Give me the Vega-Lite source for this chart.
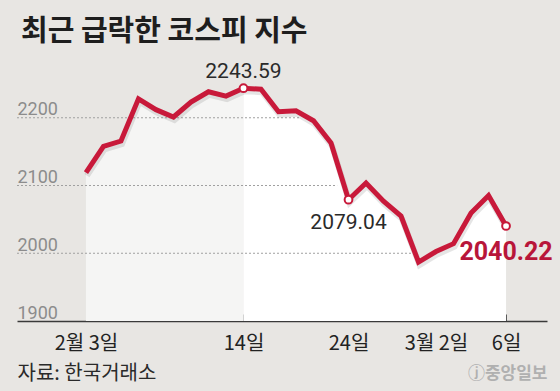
{
  "$schema": "https://vega.github.io/schema/vega-lite/v6.json",
  "width": 530,
  "height": 271,
  "autosize": {"type": "none"},
  "padding": {"left": 17, "top": 50, "right": 13, "bottom": 70},
  "background": "#e8e6e3",
  "config": {"view": {"stroke": null}, "font": "Noto Sans CJK KR"},
  "title": {
    "text": "최근 급락한 코스피 지수",
    "anchor": "start",
    "frame": "group",
    "dx": 4,
    "offset": 3,
    "fontSize": 29,
    "fontWeight": "bold",
    "color": "#1e1e1e",
    "font": "Noto Sans CJK KR"
  },
  "data": {
    "values": [
      {"i": 0, "d": "2/3", "v": 2118.88},
      {"i": 1, "d": "2/4", "v": 2157.90},
      {"i": 2, "d": "2/5", "v": 2165.63},
      {"i": 3, "d": "2/6", "v": 2227.94},
      {"i": 4, "d": "2/7", "v": 2211.95},
      {"i": 5, "d": "2/10", "v": 2201.07},
      {"i": 6, "d": "2/11", "v": 2223.12},
      {"i": 7, "d": "2/12", "v": 2238.38},
      {"i": 8, "d": "2/13", "v": 2232.02},
      {"i": 9, "d": "2/14", "v": 2243.59},
      {"i": 10, "d": "2/17", "v": 2242.17},
      {"i": 11, "d": "2/18", "v": 2208.88},
      {"i": 12, "d": "2/19", "v": 2210.34},
      {"i": 13, "d": "2/20", "v": 2195.50},
      {"i": 14, "d": "2/21", "v": 2162.84},
      {"i": 15, "d": "2/24", "v": 2079.04},
      {"i": 16, "d": "2/25", "v": 2103.61},
      {"i": 17, "d": "2/26", "v": 2076.77},
      {"i": 18, "d": "2/27", "v": 2054.89},
      {"i": 19, "d": "2/28", "v": 1987.01},
      {"i": 20, "d": "3/2", "v": 2002.51},
      {"i": 21, "d": "3/3", "v": 2014.15},
      {"i": 22, "d": "3/4", "v": 2059.33},
      {"i": 23, "d": "3/5", "v": 2085.26},
      {"i": 24, "d": "3/6", "v": 2040.22}
    ]
  },
  "encoding": {
    "x": {
      "field": "i",
      "type": "quantitative",
      "title": "자료: 한국거래소",
      "scale": {"domain": [-3.94, 26.34], "nice": false, "zero": false},
      "axis": {
        "values": [0, 9, 15, 20, 24],
        "labelExpr": "datum.value == 0 ? '2월 3일' : datum.value == 9 ? '14일' : datum.value == 15 ? '24일' : datum.value == 20 ? '3월 2일' : '6일'",
        "grid": false,
        "domainColor": "#3a3a3a",
        "domainWidth": 1.5,
        "tickColor": "#555",
        "tickSize": -7,
        "tickWidth": 1,
        "labelFontSize": 20,
        "labelColor": "#222",
        "labelPadding": 19,
        "labelFont": "Noto Sans CJK KR",
        "titleFont": "Noto Sans CJK KR",
        "titleFontSize": 20,
        "titleFontWeight": "normal",
        "titleColor": "#2a2a2a",
        "titleAnchor": "start",
        "titleAlign": "left",
        "titleBaseline": "middle",
        "titleX": 0,
        "titleY": 52
      }
    },
    "y": {
      "field": "v",
      "type": "quantitative",
      "title": "ⓙ중앙일보",
      "scale": {"domain": [1900, 2300], "nice": false, "zero": false},
      "axis": {
        "values": [1900, 2000, 2100, 2200],
        "format": "d",
        "grid": false,
        "domain": false,
        "ticks": false,
        "labelAlign": "left",
        "labelBaseline": "alphabetic",
        "labelPadding": 0,
        "labelOffset": -3,
        "labelFontSize": 18,
        "labelColor": "#8c8c8c",
        "labelFont": "Roboto",
        "titleAngle": 0,
        "titleFont": "Noto Sans CJK KR",
        "titleFontSize": 17,
        "titleFontWeight": "bold",
        "titleColor": "#b0b0b0",
        "titleAlign": "right",
        "titleBaseline": "middle",
        "titleX": 530,
        "titleY": 323
      }
    }
  },
  "layer": [
    {
      "transform": [{"filter": "datum.i <= 9"}],
      "mark": {"type": "area", "color": "#f5f5f4"},
      "encoding": {"y2": {"datum": 1900}}
    },
    {
      "transform": [{"filter": "datum.i >= 9"}],
      "mark": {"type": "area", "color": "#ffffff"},
      "encoding": {"y2": {"datum": 1900}}
    },
    {
      "data": {
        "values": [
          {"g": 2000, "s": -3.94, "e": 18.6},
          {"g": 2100, "s": -3.94, "e": 14.35},
          {"g": 2200, "s": -3.94, "e": 12.2}
        ]
      },
      "mark": {"type": "rule", "color": "#a0a0a0", "strokeDash": [2, 2], "strokeWidth": 1},
      "encoding": {
        "x": {"field": "s", "type": "quantitative"},
        "x2": {"field": "e"},
        "y": {"field": "g", "type": "quantitative"}
      }
    },
    {
      "mark": {"type": "line", "color": "#000000", "opacity": 0.1, "strokeWidth": 6, "yOffset": 3, "xOffset": 1, "strokeJoin": "miter"}
    },
    {
      "mark": {"type": "line", "color": "#c8193a", "strokeWidth": 5, "strokeJoin": "miter"}
    },
    {
      "transform": [{"filter": "datum.i == 9 || datum.i == 15 || datum.i == 24"}],
      "mark": {"type": "point", "filled": true, "fill": "#ffffff", "stroke": "#c8193a", "strokeWidth": 2, "size": 60, "opacity": 1}
    },
    {
      "transform": [{"filter": "datum.i == 9"}],
      "mark": {"type": "text", "dy": -16, "fontSize": 21, "color": "#2a2a2a", "font": "Roboto", "baseline": "middle"},
      "encoding": {"text": {"field": "v", "format": ".2f"}}
    },
    {
      "transform": [{"filter": "datum.i == 15"}],
      "mark": {"type": "text", "dy": 23, "fontSize": 21, "color": "#2a2a2a", "font": "Roboto", "baseline": "middle"},
      "encoding": {"text": {"field": "v", "format": ".2f"}}
    },
    {
      "transform": [{"filter": "datum.i == 24"}],
      "mark": {"type": "text", "dy": 26, "fontSize": 25, "fontWeight": "bold", "color": "#b8163a", "font": "Roboto", "baseline": "middle"},
      "encoding": {"text": {"field": "v", "format": ".2f"}}
    }
  ]
}
